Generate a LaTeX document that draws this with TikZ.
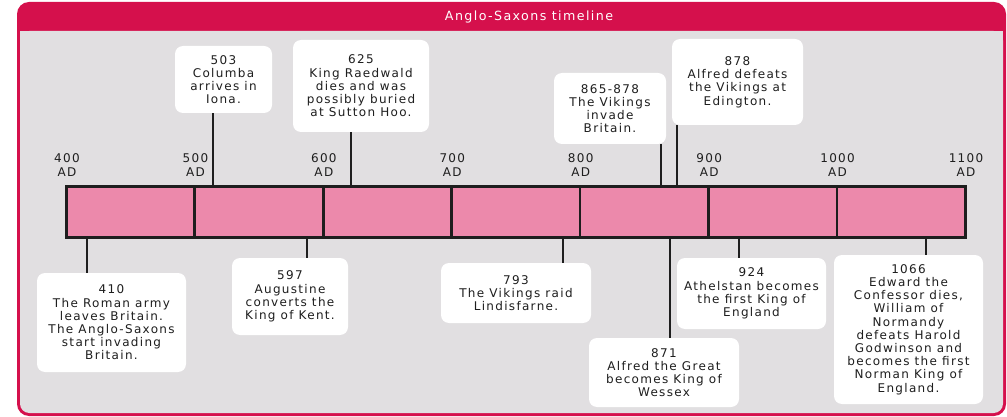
\documentclass[tikz,border=0pt]{standalone}
\usepackage{fontspec}
\newfontfamily\evfont{DejaVu Sans}[LetterSpace=11]
\definecolor{crim}{HTML}{D5104C}
\definecolor{panel}{HTML}{E1DFE1}
\definecolor{barpink}{HTML}{EC89AB}
\definecolor{ink}{HTML}{1E1E1E}
\tikzset{
  evbox/.style 2 args={fill=white, rounded corners=6pt, inner sep=0pt, align=center,
    minimum width=#1*0.75pt, minimum height=#2*0.75pt, text=ink,
    font=\evfont\fontsize{9}{9.9}\selectfont},
  barseg/.style={draw=ink, fill=barpink, line width=2pt, inner sep=0pt,
    minimum width=128.43*0.75pt, minimum height=51*0.75pt, anchor=north west},
  axislab/.style={align=center, text=ink, inner sep=0pt,
    font=\evfont\fontsize{9}{10.2}\selectfont},
  conn/.style={draw=ink, line width=1.5pt},
  titletext/.style={text=white, font=\evfont\fontsize{9.5}{10}\selectfont, inner sep=0pt}
}
\begin{document}
\begin{tikzpicture}[x=0.75pt,y=-0.75pt]
\useasboundingbox (0,0) rectangle (1007,417);
% frame
\fill[crim, rounded corners=9pt] (17,2) rectangle (1006,416);
\fill[panel, rounded corners=7pt] (20,31) rectangle (1003,413);
\fill[panel] (20,31) rectangle (1003,60);
\node[titletext] (title) at (529,17) {Anglo-Saxons timeline};
% bar
\foreach \i in {0,...,6} {
  \node[barseg] (seg\i) at ({65+128.43*\i},185) {};
}
\foreach \yr [count=\i from 0] in {400,500,600,700,800,900,1000,1100} {
  \node[axislab] (lab\yr) at ({67+128.43*\i},165) {\yr\\AD};
}
% anchor points on the bar
\coordinate (p503) at (213,185);
\coordinate (p625) at (351,185);
\coordinate (p865) at (661,185);
\coordinate (p878) at (677,185);
\coordinate (p410) at (87,236);
\coordinate (p597) at (307,236);
\coordinate (p793) at (563,236);
\coordinate (p871) at (670,236);
\coordinate (p924) at (739,236);
\coordinate (p1066) at (926,236);
% event boxes
\node[evbox={97}{67}] (e503) at (223.5,79.5) {503\\Columba\\arrives in\\Iona.};
\node[evbox={136}{92}] (e625) at (361,86) {625\\King Raedwald\\dies and was\\possibly buried\\at Sutton Hoo.};
\node[evbox={112}{71}] (e865) at (610,108.5) {865-878\\The Vikings\\invade\\Britain.};
\node[evbox={131}{86}] (e878) at (737.5,82) {878\\Alfred defeats\\the Vikings at\\Edington.};
\node[evbox={149}{99}] (e410) at (111.5,322.5) {410\\The Roman army\\leaves Britain.\\The Anglo-Saxons\\start invading\\Britain.};
\node[evbox={116}{77}] (e597) at (290,296.5) {597\\Augustine\\converts the\\King of Kent.};
\node[evbox={150}{60}] (e793) at (516,293) {793\\The Vikings raid\\Lindisfarne.};
\node[evbox={150}{69}] (e871) at (664,372.5) {871\\Alfred the Great\\becomes King of\\Wessex};
\node[evbox={149}{71}] (e924) at (751.5,293.5) {924\\Athelstan becomes\\the first King of\\England};
\node[evbox={149}{149}] (e1066) at (908.5,329.5) {1066\\Edward the\\Confessor dies,\\William of\\Normandy\\defeats Harold\\Godwinson and\\becomes the first\\Norman King of\\England.};
% connectors
\draw[conn] (e503.south -| p503) -- (p503);
\draw[conn] (e625.south -| p625) -- (p625);
\draw[conn] (e865.south -| p865) -- (p865);
\draw[conn] (e878.south -| p878) -- (p878);
\draw[conn] (e410.north -| p410) -- (p410);
\draw[conn] (e597.north -| p597) -- (p597);
\draw[conn] (e793.north -| p793) -- (p793);
\draw[conn] (e871.north -| p871) -- (p871);
\draw[conn] (e924.north -| p924) -- (p924);
\draw[conn] (e1066.north -| p1066) -- (p1066);
\end{tikzpicture}
\end{document}
